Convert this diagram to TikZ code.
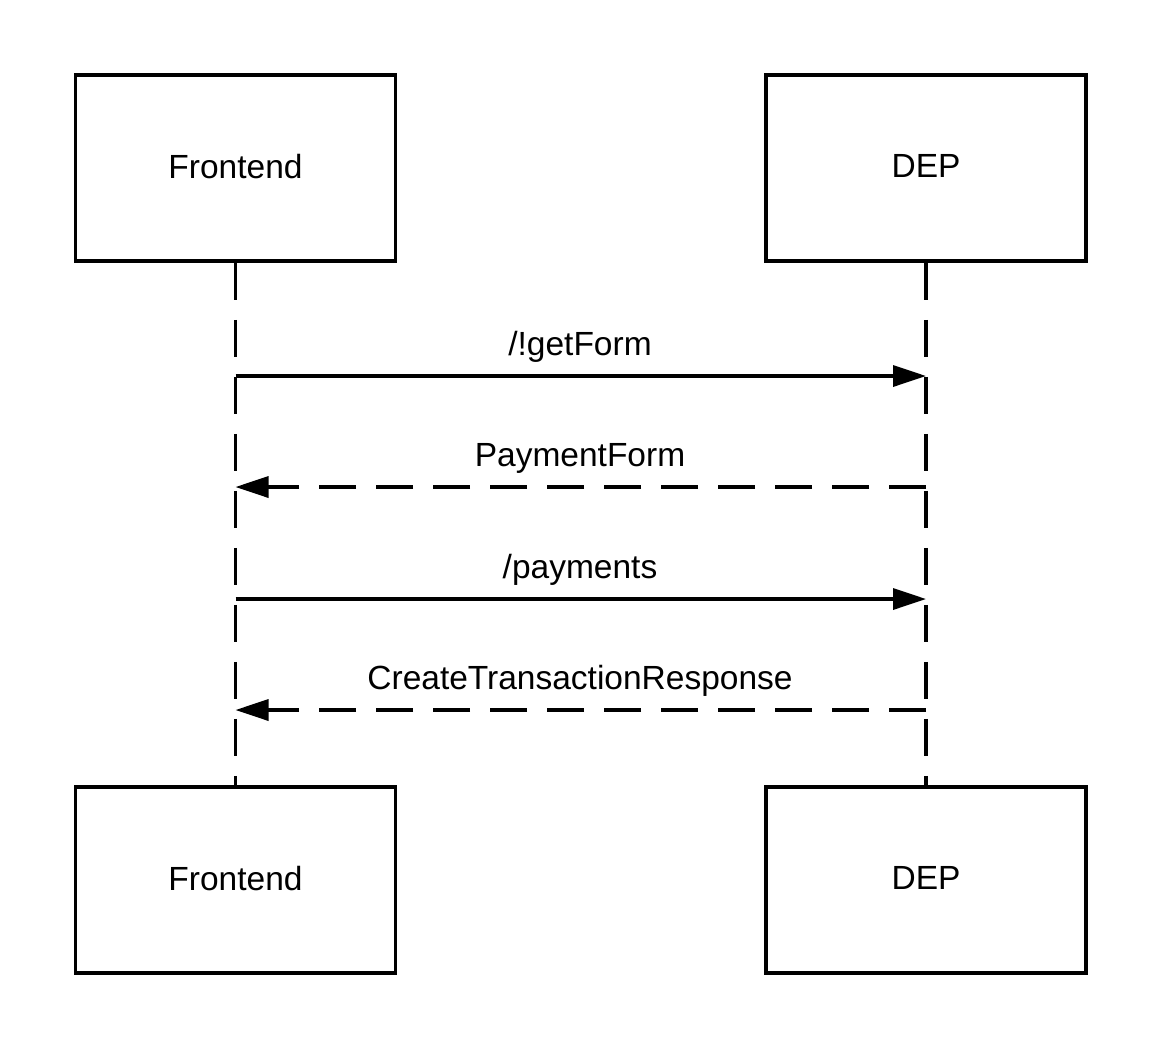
\documentclass[tikz,border=0pt]{standalone}
\usepackage{fontspec}
\setmainfont{Liberation Sans}
\usetikzlibrary{arrows.meta}
\begin{document}
\begin{tikzpicture}[x=1pt,y=-1pt,
  actor/.style={draw=black,line width=3.5pt,minimum width=320pt,minimum height=186pt,inner sep=0pt,text depth=4pt,font=\fontsize{33.5}{40}\selectfont},
  life/.style={draw=black,line width=3.5pt,dash pattern=on 37pt off 20pt},
  msg/.style={draw=black,line width=3.5pt,-{Triangle[length=33pt,width=21pt]}},
  reply/.style={msg,dash pattern=on 37pt off 20pt},
  lbl/.style={anchor=base,font=\fontsize{33.5}{40}\selectfont,inner sep=0pt}]
\useasboundingbox (0,0) rectangle (1164,1050);
\node[actor] (ft) at (235.5,168) {Frontend};
\node[actor] (dt) at (926,168) {DEP};
\node[actor] (fb) at (235.5,880) {Frontend};
\node[actor] (db) at (926,880) {DEP};
\draw[life] (ft.south) -- (fb.north);
\draw[life] (dt.south) -- (db.north);
\coordinate (f1) at (235.5,376); \coordinate (d1) at (926,376);
\coordinate (f2) at (235.5,487); \coordinate (d2) at (926,487);
\coordinate (f3) at (235.5,599); \coordinate (d3) at (926,599);
\coordinate (f4) at (235.5,710); \coordinate (d4) at (926,710);
\draw[msg] (f1) -- (d1);
\draw[reply] (d2) -- (f2);
\draw[msg] (f3) -- (d3);
\draw[reply] (d4) -- (f4);
\node[lbl] (l1) at (580,355) {/!getForm};
\node[lbl] (l2) at (580,466) {PaymentForm};
\node[lbl] (l3) at (580,578) {/payments};
\node[lbl] (l4) at (580,689) {CreateTransactionResponse};
\end{tikzpicture}
\end{document}
